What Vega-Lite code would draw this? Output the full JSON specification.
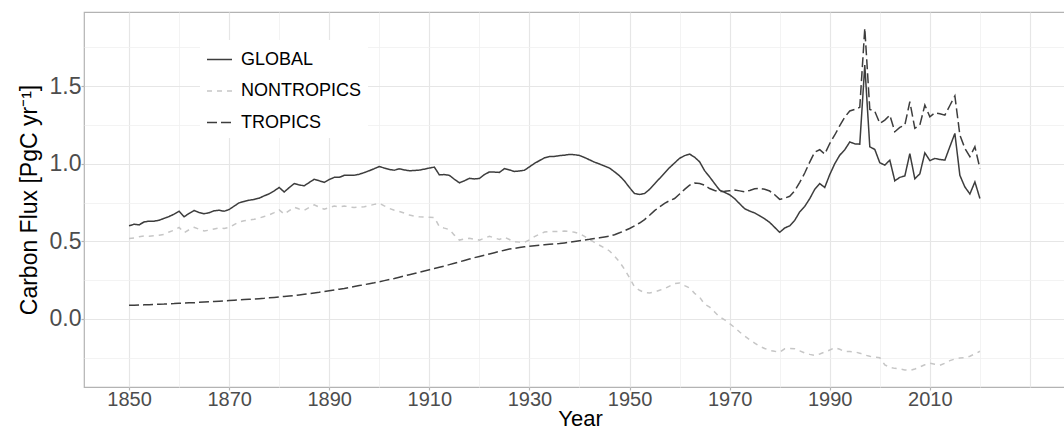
{
  "$schema": "https://vega.github.io/schema/vega-lite/v6.json",
  "width": 992,
  "height": 375,
  "autosize": "none",
  "padding": {"left": 84, "top": 12, "right": -12, "bottom": 42},
  "background": "white",
  "config": {
    "font": "Liberation Sans",
    "view": {"stroke": "#b3b3b3", "strokeWidth": 1.2}
  },
  "data": {
    "values": [
      {"Year":1850,"GLOBAL":0.600,"NONTROPICS":0.518,"TROPICS":0.088},
      {"Year":1851,"GLOBAL":0.610,"NONTROPICS":0.522,"TROPICS":0.089},
      {"Year":1852,"GLOBAL":0.606,"NONTROPICS":0.530,"TROPICS":0.090},
      {"Year":1853,"GLOBAL":0.625,"NONTROPICS":0.535,"TROPICS":0.091},
      {"Year":1854,"GLOBAL":0.630,"NONTROPICS":0.533,"TROPICS":0.092},
      {"Year":1855,"GLOBAL":0.630,"NONTROPICS":0.536,"TROPICS":0.094},
      {"Year":1856,"GLOBAL":0.636,"NONTROPICS":0.540,"TROPICS":0.095},
      {"Year":1857,"GLOBAL":0.648,"NONTROPICS":0.545,"TROPICS":0.096},
      {"Year":1858,"GLOBAL":0.660,"NONTROPICS":0.560,"TROPICS":0.098},
      {"Year":1859,"GLOBAL":0.675,"NONTROPICS":0.572,"TROPICS":0.099},
      {"Year":1860,"GLOBAL":0.694,"NONTROPICS":0.590,"TROPICS":0.101},
      {"Year":1861,"GLOBAL":0.658,"NONTROPICS":0.556,"TROPICS":0.102},
      {"Year":1862,"GLOBAL":0.680,"NONTROPICS":0.575,"TROPICS":0.104},
      {"Year":1863,"GLOBAL":0.699,"NONTROPICS":0.590,"TROPICS":0.105},
      {"Year":1864,"GLOBAL":0.686,"NONTROPICS":0.578,"TROPICS":0.107},
      {"Year":1865,"GLOBAL":0.678,"NONTROPICS":0.567,"TROPICS":0.109},
      {"Year":1866,"GLOBAL":0.684,"NONTROPICS":0.572,"TROPICS":0.111},
      {"Year":1867,"GLOBAL":0.697,"NONTROPICS":0.580,"TROPICS":0.113},
      {"Year":1868,"GLOBAL":0.700,"NONTROPICS":0.587,"TROPICS":0.115},
      {"Year":1869,"GLOBAL":0.694,"NONTROPICS":0.583,"TROPICS":0.117},
      {"Year":1870,"GLOBAL":0.705,"NONTROPICS":0.590,"TROPICS":0.119},
      {"Year":1871,"GLOBAL":0.727,"NONTROPICS":0.608,"TROPICS":0.121},
      {"Year":1872,"GLOBAL":0.748,"NONTROPICS":0.625,"TROPICS":0.123},
      {"Year":1873,"GLOBAL":0.757,"NONTROPICS":0.632,"TROPICS":0.125},
      {"Year":1874,"GLOBAL":0.765,"NONTROPICS":0.638,"TROPICS":0.127},
      {"Year":1875,"GLOBAL":0.770,"NONTROPICS":0.642,"TROPICS":0.129},
      {"Year":1876,"GLOBAL":0.778,"NONTROPICS":0.650,"TROPICS":0.131},
      {"Year":1877,"GLOBAL":0.793,"NONTROPICS":0.660,"TROPICS":0.133},
      {"Year":1878,"GLOBAL":0.806,"NONTROPICS":0.670,"TROPICS":0.136},
      {"Year":1879,"GLOBAL":0.825,"NONTROPICS":0.685,"TROPICS":0.139},
      {"Year":1880,"GLOBAL":0.847,"NONTROPICS":0.703,"TROPICS":0.142},
      {"Year":1881,"GLOBAL":0.818,"NONTROPICS":0.675,"TROPICS":0.145},
      {"Year":1882,"GLOBAL":0.846,"NONTROPICS":0.698,"TROPICS":0.148},
      {"Year":1883,"GLOBAL":0.872,"NONTROPICS":0.720,"TROPICS":0.151},
      {"Year":1884,"GLOBAL":0.863,"NONTROPICS":0.708,"TROPICS":0.155},
      {"Year":1885,"GLOBAL":0.858,"NONTROPICS":0.700,"TROPICS":0.159},
      {"Year":1886,"GLOBAL":0.879,"NONTROPICS":0.718,"TROPICS":0.163},
      {"Year":1887,"GLOBAL":0.900,"NONTROPICS":0.735,"TROPICS":0.168},
      {"Year":1888,"GLOBAL":0.890,"NONTROPICS":0.720,"TROPICS":0.172},
      {"Year":1889,"GLOBAL":0.880,"NONTROPICS":0.707,"TROPICS":0.177},
      {"Year":1890,"GLOBAL":0.898,"NONTROPICS":0.718,"TROPICS":0.182},
      {"Year":1891,"GLOBAL":0.912,"NONTROPICS":0.728,"TROPICS":0.187},
      {"Year":1892,"GLOBAL":0.912,"NONTROPICS":0.722,"TROPICS":0.192},
      {"Year":1893,"GLOBAL":0.925,"NONTROPICS":0.728,"TROPICS":0.197},
      {"Year":1894,"GLOBAL":0.925,"NONTROPICS":0.722,"TROPICS":0.203},
      {"Year":1895,"GLOBAL":0.926,"NONTROPICS":0.718,"TROPICS":0.209},
      {"Year":1896,"GLOBAL":0.932,"NONTROPICS":0.720,"TROPICS":0.215},
      {"Year":1897,"GLOBAL":0.943,"NONTROPICS":0.723,"TROPICS":0.221},
      {"Year":1898,"GLOBAL":0.955,"NONTROPICS":0.730,"TROPICS":0.227},
      {"Year":1899,"GLOBAL":0.968,"NONTROPICS":0.738,"TROPICS":0.233},
      {"Year":1900,"GLOBAL":0.982,"NONTROPICS":0.745,"TROPICS":0.240},
      {"Year":1901,"GLOBAL":0.972,"NONTROPICS":0.728,"TROPICS":0.247},
      {"Year":1902,"GLOBAL":0.963,"NONTROPICS":0.712,"TROPICS":0.254},
      {"Year":1903,"GLOBAL":0.958,"NONTROPICS":0.700,"TROPICS":0.261},
      {"Year":1904,"GLOBAL":0.967,"NONTROPICS":0.692,"TROPICS":0.269},
      {"Year":1905,"GLOBAL":0.960,"NONTROPICS":0.682,"TROPICS":0.277},
      {"Year":1906,"GLOBAL":0.955,"NONTROPICS":0.670,"TROPICS":0.285},
      {"Year":1907,"GLOBAL":0.956,"NONTROPICS":0.663,"TROPICS":0.293},
      {"Year":1908,"GLOBAL":0.959,"NONTROPICS":0.658,"TROPICS":0.301},
      {"Year":1909,"GLOBAL":0.965,"NONTROPICS":0.656,"TROPICS":0.309},
      {"Year":1910,"GLOBAL":0.972,"NONTROPICS":0.655,"TROPICS":0.317},
      {"Year":1911,"GLOBAL":0.978,"NONTROPICS":0.654,"TROPICS":0.325},
      {"Year":1912,"GLOBAL":0.928,"NONTROPICS":0.595,"TROPICS":0.333},
      {"Year":1913,"GLOBAL":0.930,"NONTROPICS":0.585,"TROPICS":0.341},
      {"Year":1914,"GLOBAL":0.925,"NONTROPICS":0.576,"TROPICS":0.350},
      {"Year":1915,"GLOBAL":0.900,"NONTROPICS":0.540,"TROPICS":0.359},
      {"Year":1916,"GLOBAL":0.877,"NONTROPICS":0.508,"TROPICS":0.368},
      {"Year":1917,"GLOBAL":0.890,"NONTROPICS":0.515,"TROPICS":0.377},
      {"Year":1918,"GLOBAL":0.906,"NONTROPICS":0.520,"TROPICS":0.386},
      {"Year":1919,"GLOBAL":0.902,"NONTROPICS":0.513,"TROPICS":0.395},
      {"Year":1920,"GLOBAL":0.905,"NONTROPICS":0.508,"TROPICS":0.403},
      {"Year":1921,"GLOBAL":0.930,"NONTROPICS":0.520,"TROPICS":0.411},
      {"Year":1922,"GLOBAL":0.947,"NONTROPICS":0.533,"TROPICS":0.419},
      {"Year":1923,"GLOBAL":0.946,"NONTROPICS":0.522,"TROPICS":0.427},
      {"Year":1924,"GLOBAL":0.944,"NONTROPICS":0.512,"TROPICS":0.435},
      {"Year":1925,"GLOBAL":0.968,"NONTROPICS":0.527,"TROPICS":0.443},
      {"Year":1926,"GLOBAL":0.960,"NONTROPICS":0.512,"TROPICS":0.450},
      {"Year":1927,"GLOBAL":0.950,"NONTROPICS":0.497,"TROPICS":0.455},
      {"Year":1928,"GLOBAL":0.953,"NONTROPICS":0.495,"TROPICS":0.460},
      {"Year":1929,"GLOBAL":0.958,"NONTROPICS":0.493,"TROPICS":0.465},
      {"Year":1930,"GLOBAL":0.980,"NONTROPICS":0.510,"TROPICS":0.469},
      {"Year":1931,"GLOBAL":1.002,"NONTROPICS":0.530,"TROPICS":0.472},
      {"Year":1932,"GLOBAL":1.020,"NONTROPICS":0.546,"TROPICS":0.475},
      {"Year":1933,"GLOBAL":1.038,"NONTROPICS":0.560,"TROPICS":0.478},
      {"Year":1934,"GLOBAL":1.046,"NONTROPICS":0.563,"TROPICS":0.481},
      {"Year":1935,"GLOBAL":1.047,"NONTROPICS":0.563,"TROPICS":0.483},
      {"Year":1936,"GLOBAL":1.052,"NONTROPICS":0.565,"TROPICS":0.486},
      {"Year":1937,"GLOBAL":1.055,"NONTROPICS":0.566,"TROPICS":0.490},
      {"Year":1938,"GLOBAL":1.060,"NONTROPICS":0.565,"TROPICS":0.494},
      {"Year":1939,"GLOBAL":1.058,"NONTROPICS":0.558,"TROPICS":0.499},
      {"Year":1940,"GLOBAL":1.053,"NONTROPICS":0.550,"TROPICS":0.504},
      {"Year":1941,"GLOBAL":1.040,"NONTROPICS":0.532,"TROPICS":0.509},
      {"Year":1942,"GLOBAL":1.025,"NONTROPICS":0.512,"TROPICS":0.513},
      {"Year":1943,"GLOBAL":1.010,"NONTROPICS":0.493,"TROPICS":0.518},
      {"Year":1944,"GLOBAL":0.998,"NONTROPICS":0.475,"TROPICS":0.523},
      {"Year":1945,"GLOBAL":0.985,"NONTROPICS":0.457,"TROPICS":0.528},
      {"Year":1946,"GLOBAL":0.972,"NONTROPICS":0.438,"TROPICS":0.533},
      {"Year":1947,"GLOBAL":0.948,"NONTROPICS":0.405,"TROPICS":0.543},
      {"Year":1948,"GLOBAL":0.922,"NONTROPICS":0.368,"TROPICS":0.555},
      {"Year":1949,"GLOBAL":0.888,"NONTROPICS":0.320,"TROPICS":0.568},
      {"Year":1950,"GLOBAL":0.846,"NONTROPICS":0.265,"TROPICS":0.583},
      {"Year":1951,"GLOBAL":0.808,"NONTROPICS":0.206,"TROPICS":0.600},
      {"Year":1952,"GLOBAL":0.802,"NONTROPICS":0.185,"TROPICS":0.618},
      {"Year":1953,"GLOBAL":0.808,"NONTROPICS":0.170,"TROPICS":0.640},
      {"Year":1954,"GLOBAL":0.835,"NONTROPICS":0.168,"TROPICS":0.668},
      {"Year":1955,"GLOBAL":0.870,"NONTROPICS":0.174,"TROPICS":0.698},
      {"Year":1956,"GLOBAL":0.905,"NONTROPICS":0.185,"TROPICS":0.722},
      {"Year":1957,"GLOBAL":0.940,"NONTROPICS":0.196,"TROPICS":0.745},
      {"Year":1958,"GLOBAL":0.975,"NONTROPICS":0.212,"TROPICS":0.762},
      {"Year":1959,"GLOBAL":1.005,"NONTROPICS":0.228,"TROPICS":0.776},
      {"Year":1960,"GLOBAL":1.035,"NONTROPICS":0.232,"TROPICS":0.805},
      {"Year":1961,"GLOBAL":1.052,"NONTROPICS":0.215,"TROPICS":0.835},
      {"Year":1962,"GLOBAL":1.062,"NONTROPICS":0.200,"TROPICS":0.862},
      {"Year":1963,"GLOBAL":1.042,"NONTROPICS":0.165,"TROPICS":0.875},
      {"Year":1964,"GLOBAL":1.012,"NONTROPICS":0.140,"TROPICS":0.873},
      {"Year":1965,"GLOBAL":0.955,"NONTROPICS":0.095,"TROPICS":0.862},
      {"Year":1966,"GLOBAL":0.915,"NONTROPICS":0.077,"TROPICS":0.840},
      {"Year":1967,"GLOBAL":0.872,"NONTROPICS":0.045,"TROPICS":0.828},
      {"Year":1968,"GLOBAL":0.830,"NONTROPICS":0.013,"TROPICS":0.820},
      {"Year":1969,"GLOBAL":0.815,"NONTROPICS":-0.005,"TROPICS":0.822},
      {"Year":1970,"GLOBAL":0.800,"NONTROPICS":-0.030,"TROPICS":0.826},
      {"Year":1971,"GLOBAL":0.775,"NONTROPICS":-0.055,"TROPICS":0.830},
      {"Year":1972,"GLOBAL":0.742,"NONTROPICS":-0.084,"TROPICS":0.825},
      {"Year":1973,"GLOBAL":0.710,"NONTROPICS":-0.110,"TROPICS":0.819},
      {"Year":1974,"GLOBAL":0.695,"NONTROPICS":-0.133,"TROPICS":0.828},
      {"Year":1975,"GLOBAL":0.683,"NONTROPICS":-0.155,"TROPICS":0.838},
      {"Year":1976,"GLOBAL":0.665,"NONTROPICS":-0.176,"TROPICS":0.841},
      {"Year":1977,"GLOBAL":0.645,"NONTROPICS":-0.190,"TROPICS":0.835},
      {"Year":1978,"GLOBAL":0.622,"NONTROPICS":-0.202,"TROPICS":0.824},
      {"Year":1979,"GLOBAL":0.590,"NONTROPICS":-0.208,"TROPICS":0.800},
      {"Year":1980,"GLOBAL":0.558,"NONTROPICS":-0.213,"TROPICS":0.770},
      {"Year":1981,"GLOBAL":0.586,"NONTROPICS":-0.192,"TROPICS":0.778},
      {"Year":1982,"GLOBAL":0.600,"NONTROPICS":-0.190,"TROPICS":0.790},
      {"Year":1983,"GLOBAL":0.635,"NONTROPICS":-0.191,"TROPICS":0.825},
      {"Year":1984,"GLOBAL":0.690,"NONTROPICS":-0.205,"TROPICS":0.880},
      {"Year":1985,"GLOBAL":0.725,"NONTROPICS":-0.219,"TROPICS":0.940},
      {"Year":1986,"GLOBAL":0.775,"NONTROPICS":-0.228,"TROPICS":1.010},
      {"Year":1987,"GLOBAL":0.835,"NONTROPICS":-0.234,"TROPICS":1.075},
      {"Year":1988,"GLOBAL":0.872,"NONTROPICS":-0.225,"TROPICS":1.090},
      {"Year":1989,"GLOBAL":0.847,"NONTROPICS":-0.213,"TROPICS":1.062},
      {"Year":1990,"GLOBAL":0.930,"NONTROPICS":-0.200,"TROPICS":1.130},
      {"Year":1991,"GLOBAL":1.000,"NONTROPICS":-0.185,"TROPICS":1.185},
      {"Year":1992,"GLOBAL":1.055,"NONTROPICS":-0.195,"TROPICS":1.245},
      {"Year":1993,"GLOBAL":1.090,"NONTROPICS":-0.210,"TROPICS":1.300},
      {"Year":1994,"GLOBAL":1.140,"NONTROPICS":-0.210,"TROPICS":1.340},
      {"Year":1995,"GLOBAL":1.128,"NONTROPICS":-0.212,"TROPICS":1.350},
      {"Year":1996,"GLOBAL":1.126,"NONTROPICS":-0.220,"TROPICS":1.363},
      {"Year":1997,"GLOBAL":1.635,"NONTROPICS":-0.232,"TROPICS":1.872},
      {"Year":1998,"GLOBAL":1.109,"NONTROPICS":-0.240,"TROPICS":1.350},
      {"Year":1999,"GLOBAL":1.092,"NONTROPICS":-0.245,"TROPICS":1.337},
      {"Year":2000,"GLOBAL":1.006,"NONTROPICS":-0.250,"TROPICS":1.260},
      {"Year":2001,"GLOBAL":0.991,"NONTROPICS":-0.295,"TROPICS":1.281},
      {"Year":2002,"GLOBAL":1.023,"NONTROPICS":-0.312,"TROPICS":1.313},
      {"Year":2003,"GLOBAL":0.890,"NONTROPICS":-0.318,"TROPICS":1.206},
      {"Year":2004,"GLOBAL":0.912,"NONTROPICS":-0.322,"TROPICS":1.234},
      {"Year":2005,"GLOBAL":0.921,"NONTROPICS":-0.328,"TROPICS":1.249},
      {"Year":2006,"GLOBAL":1.065,"NONTROPICS":-0.331,"TROPICS":1.399},
      {"Year":2007,"GLOBAL":0.903,"NONTROPICS":-0.322,"TROPICS":1.228},
      {"Year":2008,"GLOBAL":0.935,"NONTROPICS":-0.309,"TROPICS":1.249},
      {"Year":2009,"GLOBAL":1.070,"NONTROPICS":-0.295,"TROPICS":1.378},
      {"Year":2010,"GLOBAL":1.020,"NONTROPICS":-0.284,"TROPICS":1.302},
      {"Year":2011,"GLOBAL":1.034,"NONTROPICS":-0.292,"TROPICS":1.328},
      {"Year":2012,"GLOBAL":1.027,"NONTROPICS":-0.298,"TROPICS":1.322},
      {"Year":2013,"GLOBAL":1.023,"NONTROPICS":-0.285,"TROPICS":1.313},
      {"Year":2014,"GLOBAL":1.110,"NONTROPICS":-0.268,"TROPICS":1.375},
      {"Year":2015,"GLOBAL":1.195,"NONTROPICS":-0.258,"TROPICS":1.436},
      {"Year":2016,"GLOBAL":0.925,"NONTROPICS":-0.252,"TROPICS":1.184},
      {"Year":2017,"GLOBAL":0.850,"NONTROPICS":-0.249,"TROPICS":1.099},
      {"Year":2018,"GLOBAL":0.805,"NONTROPICS":-0.240,"TROPICS":1.045},
      {"Year":2019,"GLOBAL":0.883,"NONTROPICS":-0.225,"TROPICS":1.109},
      {"Year":2020,"GLOBAL":0.776,"NONTROPICS":-0.208,"TROPICS":0.970}
    ]
  },
  "transform": [
    {"fold": ["GLOBAL", "NONTROPICS", "TROPICS"], "as": ["Series", "Flux"]}
  ],
  "mark": {"type": "line", "strokeWidth": 1.5, "clip": true},
  "encoding": {
    "x": {
      "field": "Year",
      "type": "quantitative",
      "scale": {"domain": [1841, 2039.2], "nice": false, "zero": false},
      "axis": {
        "values": [1850, 1860, 1870, 1880, 1890, 1900, 1910, 1920, 1930, 1940, 1950, 1960, 1970, 1980, 1990, 2000, 2010, 2020, 2030],
        "format": "d",
        "labelExpr": "(datum.value % 20 == 10 && datum.value <= 2010) ? datum.label : ''",
        "labelOverlap": false,
        "labelFlush": false,
        "labelBound": false,
        "labelFontSize": 20,
        "labelColor": "#4d4d4d",
        "labelPadding": -1,
        "grid": true,
        "gridColor": {"condition": {"test": "datum.value % 20 == 10", "value": "#e6e6e6"}, "value": "#f0f0f0"},
        "gridWidth": {"condition": {"test": "datum.value % 20 == 10", "value": 1.2}, "value": 0.8},
        "domain": false,
        "tickColor": "#b3b3b3",
        "tickSize": 3,
        "tickWidth": 1.2,
        "tickOpacity": {"condition": {"test": "datum.value % 20 == 10 && datum.value <= 2010", "value": 1}, "value": 0},
        "title": "Year",
        "titleFontSize": 22,
        "titleFontWeight": "normal",
        "titleColor": "#000000",
        "titlePadding": -1
      }
    },
    "y": {
      "field": "Flux",
      "type": "quantitative",
      "scale": {"domain": [-0.438, 1.977], "nice": false, "zero": false},
      "axis": {
        "values": [-0.25, 0, 0.25, 0.5, 0.75, 1, 1.25, 1.5, 1.75],
        "labelExpr": "(abs(datum.value * 2 - round(datum.value * 2)) < 0.001) ? format(datum.value, '.1f') : ''",
        "labelOverlap": false,
        "labelBound": false,
        "labelFlush": false,
        "labelFontSize": 23,
        "labelColor": "#4d4d4d",
        "labelPadding": 0,
        "grid": true,
        "gridColor": {"condition": {"test": "abs(datum.value * 2 - round(datum.value * 2)) < 0.001", "value": "#e6e6e6"}, "value": "#f0f0f0"},
        "gridWidth": {"condition": {"test": "abs(datum.value * 2 - round(datum.value * 2)) < 0.001", "value": 1.2}, "value": 0.8},
        "domain": false,
        "tickColor": "#b3b3b3",
        "tickSize": 3,
        "tickWidth": 1.2,
        "tickOpacity": {"condition": {"test": "abs(datum.value * 2 - round(datum.value * 2)) < 0.001", "value": 1}, "value": 0},
        "title": "Carbon Flux [PgC yr⁻¹]",
        "titleFontSize": 23,
        "titleFontWeight": "normal",
        "titleColor": "#000000",
        "titlePadding": 8
      }
    },
    "color": {
      "field": "Series",
      "type": "nominal",
      "scale": {"domain": ["GLOBAL", "NONTROPICS", "TROPICS"], "range": ["#3d3d3d", "#c6c6c6", "#3d3d3d"]},
      "legend": {
        "title": null,
        "orient": "none",
        "legendX": 116,
        "legendY": 28,
        "fillColor": "white",
        "padding": 6,
        "symbolType": "stroke",
        "symbolSize": 625,
        "symbolStrokeWidth": 1.5,
        "labelFontSize": 18,
        "labelColor": "#000000",
        "labelOffset": 8,
        "rowPadding": 8.5
      }
    },
    "strokeDash": {
      "field": "Series",
      "type": "nominal",
      "scale": {"domain": ["GLOBAL", "NONTROPICS", "TROPICS"], "range": [[1, 0], [5, 5], [10, 4]]},
      "legend": {
        "title": null,
        "orient": "none",
        "legendX": 116,
        "legendY": 28,
        "fillColor": "white",
        "padding": 6,
        "symbolType": "stroke",
        "symbolSize": 625,
        "symbolStrokeWidth": 1.5,
        "labelFontSize": 18,
        "labelColor": "#000000",
        "labelOffset": 8,
        "rowPadding": 8.5
      }
    }
  }
}
